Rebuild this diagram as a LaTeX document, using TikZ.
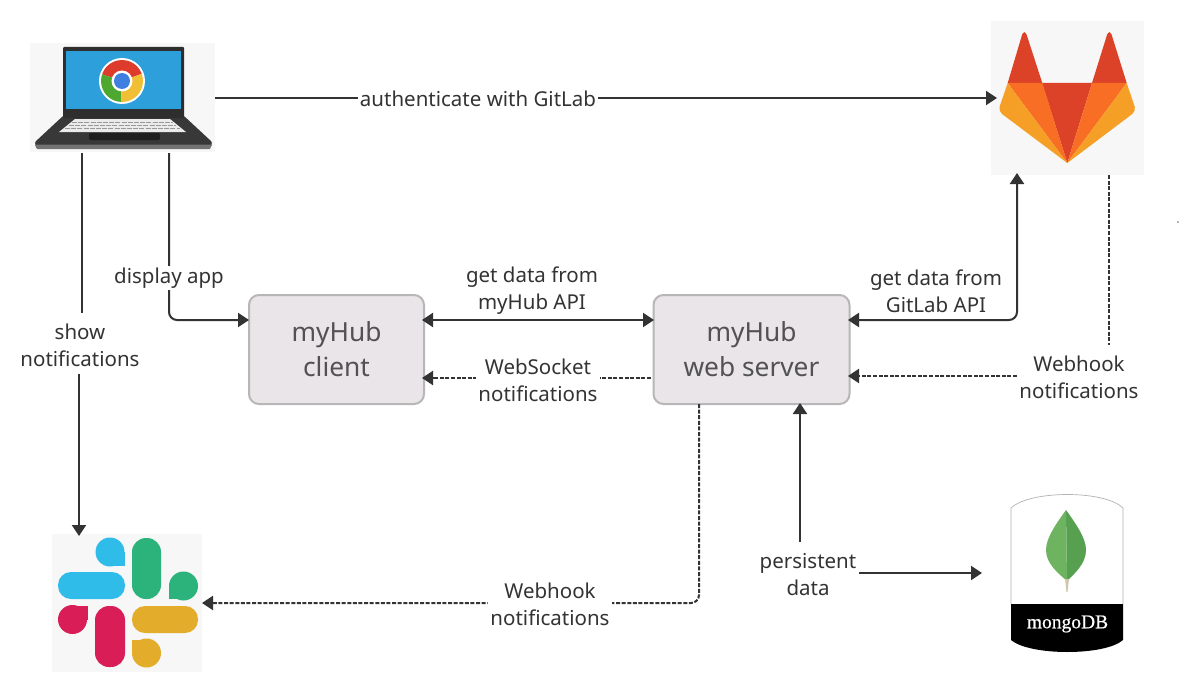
\documentclass[tikz,border=0pt]{standalone}
\usepackage{fontspec}
\setmainfont{Noto Sans}
\newfontfamily\mgfont[FakeBold=0.6]{Liberation Serif}
\usetikzlibrary{arrows.meta,calc}
\definecolor{ink}{HTML}{333333}
\definecolor{boxfill}{HTML}{E9E5E8}
\definecolor{boxline}{HTML}{B8B6B7}
\definecolor{iconbg}{HTML}{F7F7F7}
\definecolor{scr}{HTML}{2D9FDB}
\definecolor{chr}{HTML}{DD3B2B}
\definecolor{chg}{HTML}{4EA82F}
\definecolor{chy}{HTML}{F1BF36}
\definecolor{chb}{HTML}{3E7FE0}
\definecolor{glr}{HTML}{DC4227}
\definecolor{glo}{HTML}{F76E24}
\definecolor{gly}{HTML}{F59F26}
\definecolor{skb}{HTML}{2FBCE9}
\definecolor{skg}{HTML}{2CB27B}
\definecolor{skr}{HTML}{D91D57}
\definecolor{sky}{HTML}{E3AC2B}
\definecolor{mgd}{HTML}{57A050}
\definecolor{mgl}{HTML}{6DB360}
\definecolor{mgs}{HTML}{CFC7AE}
\tikzset{
  x=1pt,y=-1pt,
  iconbox/.style={fill=iconbg,draw=none,inner sep=0pt,anchor=north west},
  hub/.style={fill=boxfill,draw=boxline,line width=2pt,rounded corners=10pt,inner sep=0pt,anchor=north west,align=center,text=black!68,font=\fontsize{26.3}{35}\selectfont},
  lab/.style={fill=white,inner sep=2pt,align=center,text=ink,font=\fontsize{20.5}{27}\selectfont},
  plainlab/.style={lab,fill=none},
  conn/.style={draw=ink,line width=2pt,-{Triangle[length=11pt,width=14pt]}},
  both/.style={conn,{Triangle[length=11pt,width=14pt]}-{Triangle[length=11pt,width=14pt]}},
  plainline/.style={draw=ink,line width=2pt},
  dashline/.style={dash pattern=on 4pt off 1.6pt},
}
\begin{document}
\begin{tikzpicture}
\useasboundingbox (0,0) rectangle (1200,693);
\fill[white] (0,0) rectangle (1200,693);
\fill[black!60] (1178,222) circle (.8);
% icon backgrounds
\node[iconbox,minimum width=185pt,minimum height=109pt] (laptop) at (30,43) {};
\node[iconbox,minimum width=153pt,minimum height=154pt] (gitlab) at (991,21) {};
\node[iconbox,minimum width=150pt,minimum height=138pt] (slack) at (52,534) {};
\node[inner sep=0pt,minimum width=113pt,minimum height=158pt,anchor=north west] (mongo) at (1011,494) {};
% laptop
\fill[black!78,rounded corners=1pt] (35,142) -- (63,116) -- (184,116) -- (212,142) -- (211,147) -- (36,148) -- cycle;
\fill[black!55] (35,144.5) -- (212,144.5) -- (210,149) -- (37,149) -- cycle;
\fill[black!82,rounded corners=1pt] (63,47) rectangle (184,118);
\fill[scr] (66,51) rectangle (181,109);
\fill[white!92!black] (75,119) -- (170,119) -- (186,132) -- (59,132) -- cycle;
\foreach \r/\a/\b in {122/72/173,125/69/176,128.5/65/180}{\draw[black!40,line width=.5pt,dash pattern=on 5pt off 1.2pt] (\a,\r) -- (\b,\r);}
\fill[black!88,rounded corners=2pt] (89,133) rectangle (160,140);
% chrome
\fill[white] (122,81) circle (23);
\begin{scope}
\clip (122,81) circle (21);
\fill[chr] (122,81) -- (101,74) -- (105,55) -- (145,55) -- (144,73) -- cycle;
\fill[chg] (122,81) -- (101,74) -- (92,76) -- (95,104) -- (121,105) -- (121,103) -- cycle;
\fill[chy] (122,81) -- (144,73) -- (150,75) -- (150,105) -- (121,105) -- (121,103) -- cycle;
\end{scope}
\fill[white] (122,81) circle (10.5);
\fill[chb] (122,81) circle (8);
% gitlab
\fill[glr] (1007.7,83) -- (1022.3,34) .. controls (1023,31.5) and (1025.7,31.5) .. (1026.4,34) -- (1042.3,83) -- cycle;
\fill[glr] (1092,83) -- (1107.3,34) .. controls (1108,31.5) and (1110.7,31.5) .. (1111.4,34) -- (1126.7,83) -- cycle;
\fill[glr] (1042,83) -- (1092,83) -- (1067.3,163) -- cycle;
\fill[glo] (1007.7,83) -- (1042.3,83) -- (1067.3,163) -- cycle;
\fill[glo] (1092,83) -- (1126.7,83) -- (1067.3,163) -- cycle;
\fill[gly] (1007.7,83) -- (999.5,107) .. controls (999,110) and (1000,112) .. (1002,114) -- (1067.3,163) -- cycle;
\fill[gly] (1126.7,83) -- (1134.8,107) .. controls (1135.3,110) and (1134.3,112) .. (1132.3,114) -- (1067.3,163) -- cycle;
% slack
\fill[skb,rounded corners=13pt] (58,572) rectangle (125,599);
\fill[skb] (110,552) circle (14.5);
\fill[skb] (110,552) rectangle (125,566);
\fill[skg,rounded corners=14pt] (132,538) rectangle (161,599);
\fill[skg] (183.5,586) circle (14.5);
\fill[skg] (169,586) rectangle (183.5,599);
\fill[skr] (72.5,619.5) circle (14.5);
\fill[skr] (72.5,606) rectangle (88,619.5);
\fill[skr,rounded corners=14pt] (95,606) rectangle (125,667);
\fill[sky,rounded corners=13pt] (132,606) rectangle (198,633);
\fill[sky] (146.5,653) circle (14.5);
\fill[sky] (132,640) rectangle (146.5,653);
% mongo
\fill[black] (1011,604) -- (1123,604) -- (1123,640) .. controls (1105,656) and (1030,656) .. (1011,640) -- cycle;
\draw[black!30,line width=.7pt] (1011,604) -- (1011,508) .. controls (1030,490) and (1105,490) .. (1123,508) -- (1123,604);
\fill[mgd] (1066,510) .. controls (1076,524) and (1086,538) .. (1086,550) .. controls (1086,564) and (1074,574) .. (1067,581) -- cycle;
\fill[mgl] (1066,510) .. controls (1056,524) and (1046,538) .. (1046,550) .. controls (1046,564) and (1059,574) .. (1067,581) -- cycle;
\fill[mgs] (1065,579) -- (1069,579) -- (1067.5,592) -- (1066.5,592) -- cycle;
\node[inner sep=0pt,text=white,font=\mgfont\fontsize{19.5}{20}\selectfont] (mongolabel) at (1067.5,624) {mongoDB};
% hubs
\node[hub,minimum width=175pt,minimum height=109pt] (client) at (248,294) {myHub\\client};
\node[hub,minimum width=196pt,minimum height=109pt] (server) at (652.5,294) {myHub\\web server};
% connector ends
\coordinate (lapR) at (215,98);
\coordinate (glL) at (997,98);
\coordinate (lapA) at (82.3,153);
\coordinate (lapAe) at (82.3,313);
\coordinate (slS) at (79,374);
\coordinate (slT) at (79,536);
\coordinate (lapB) at (169,153);
\coordinate (clW) at (249,320);
\coordinate (clE) at (422,320);
\coordinate (srW) at (654,320);
\coordinate (srE) at (848,320);
\coordinate (glB) at (1017,173);
\coordinate (glC) at (1109,175);
\coordinate (glCe) at (1109,345);
\coordinate (srW2) at (651,378);
\coordinate (clE2) at (422,378);
\coordinate (whS) at (1017,376);
\coordinate (srE2) at (848,376);
\coordinate (srB) at (699,404);
\coordinate (slR) at (202,603);
\coordinate (srB2) at (800,403);
\coordinate (peS) at (800,542);
\coordinate (peE) at (859,573);
\coordinate (mgL) at (982,573);
% connectors
\draw[conn] (lapR) -- (glL);
\draw[plainline] (lapA) -- (lapAe);
\draw[conn] (slS) -- (slT);
\draw[conn,rounded corners=8pt] (lapB) -- (lapB |- clW) -- (clW);
\draw[both] (clE) -- (srW);
\draw[both,rounded corners=8pt] (srE) -- (glB |- srE) -- (glB);
\draw[conn,dashline] (srW2) -- (clE2);
\draw[plainline,dashline] (glC) -- (glCe);
\draw[conn,dashline] (whS) -- (srE2);
\draw[conn,dashline,rounded corners=8pt] (srB) -- (srB |- slR) -- (slR);
\draw[conn] (peS) -- (srB2);
\draw[conn] (peE) -- (mgL);
% labels
\node[lab] (l1) at (478,99) {authenticate with GitLab};
\node[lab] (l2) at (80,345) {show\\notifications};
\node[lab] (l3) at (169,278) {display app};
\node[plainlab] (l4) at (532,291) {get data from\\myHub API};
\node[lab] (l5) at (538,380) {WebSocket\\notifications};
\node[plainlab] (l6) at (936,291) {get data from\\GitLab API};
\node[plainlab] (l7) at (1079,377) {Webhook\\notifications};
\node[lab] (l8) at (550,604) {Webhook\\notifications};
\node[plainlab] (l9) at (808,575) {persistent\\data};
\end{tikzpicture}
\end{document}
